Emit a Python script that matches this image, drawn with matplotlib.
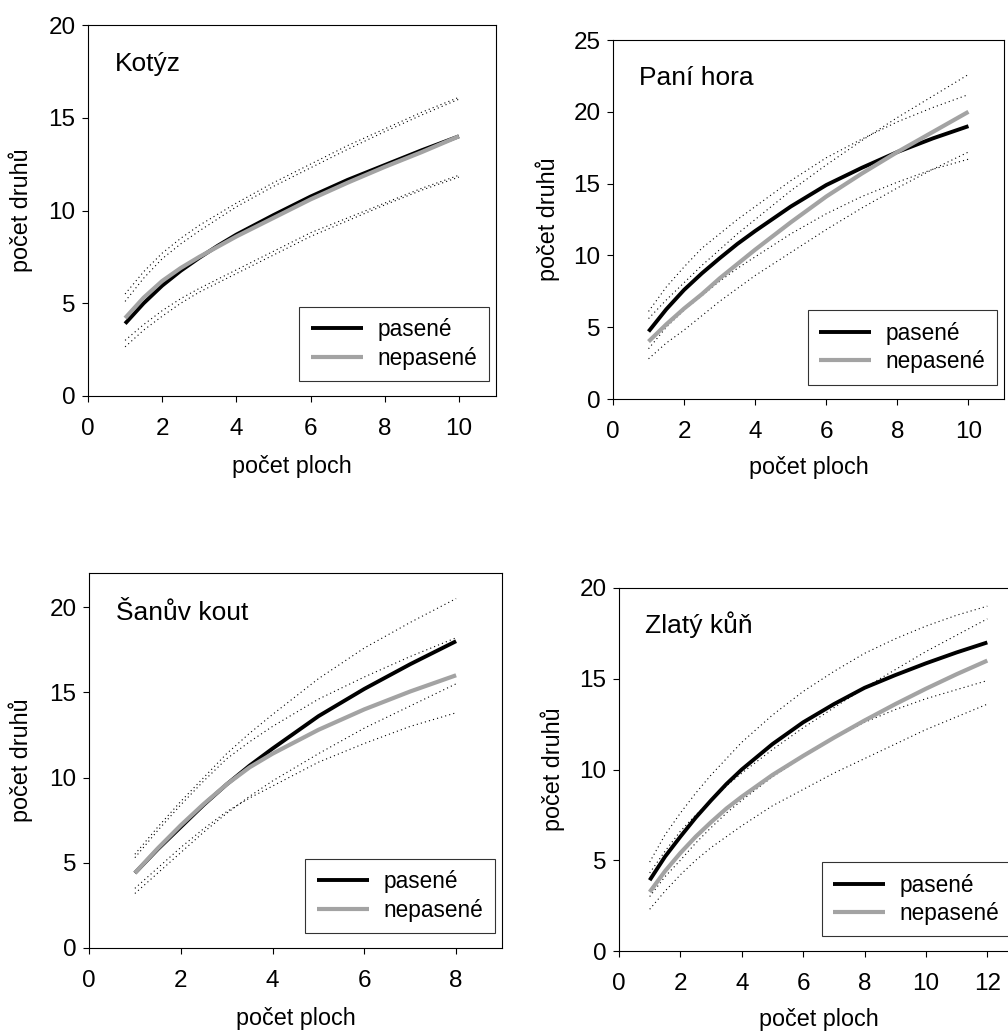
import numpy as np
import matplotlib.pyplot as plt

plt.rcParams['font.family'] = ['Liberation Sans', 'DejaVu Sans']

# --- data ---
# Kotýz
x_kot = [1, 1.5, 2, 2.5, 3, 3.5, 4, 5, 6, 7, 8, 9, 10]
kot_pas = [3.9, 5.0, 5.95, 6.75, 7.45, 8.1, 8.7, 9.75, 10.75, 11.65, 12.45, 13.25, 14.0]
kot_nep = [4.2, 5.3, 6.2, 6.9, 7.5, 8.05, 8.6, 9.6, 10.6, 11.5, 12.35, 13.15, 14.0]
kot_pas_hi = [5.5, 6.7, 7.7, 8.5, 9.2, 9.8, 10.4, 11.5, 12.5, 13.5, 14.4, 15.3, 16.1]
kot_pas_lo = [2.65, 3.55, 4.3, 5.0, 5.6, 6.1, 6.6, 7.6, 8.6, 9.45, 10.3, 11.1, 11.8]
kot_nep_hi = [5.1, 6.35, 7.4, 8.2, 8.9, 9.55, 10.2, 11.3, 12.3, 13.3, 14.25, 15.15, 16.0]
kot_nep_lo = [3.0, 3.85, 4.6, 5.25, 5.8, 6.3, 6.8, 7.8, 8.8, 9.6, 10.4, 11.2, 11.9]

# Paní hora
x_pan = [1, 1.5, 2, 2.5, 3, 3.5, 4, 5, 6, 7, 8, 9, 10]
pan_pas = [4.7, 6.25, 7.6, 8.75, 9.8, 10.8, 11.7, 13.4, 14.9, 16.1, 17.2, 18.15, 19.0]
pan_nep = [4.0, 5.2, 6.3, 7.3, 8.4, 9.4, 10.4, 12.3, 14.1, 15.7, 17.2, 18.6, 20.0]
pan_pas_hi = [6.1, 7.8, 9.2, 10.5, 11.5, 12.5, 13.4, 15.2, 16.8, 18.1, 19.3, 20.3, 21.2]
pan_pas_lo = [3.5, 5.0, 6.2, 7.2, 8.2, 9.1, 9.9, 11.5, 12.9, 14.1, 15.1, 16.0, 16.7]
pan_nep_hi = [5.6, 6.9, 8.1, 9.3, 10.4, 11.5, 12.5, 14.5, 16.3, 18.0, 19.6, 21.1, 22.6]
pan_nep_lo = [2.8, 3.9, 4.8, 5.8, 6.8, 7.7, 8.6, 10.2, 11.8, 13.3, 14.7, 16.0, 17.2]

# Šanův kout
x_san = [1, 1.5, 2, 2.5, 3, 3.5, 4, 5, 6, 7, 8]
san_pas = [4.4, 5.8, 7.1, 8.4, 9.6, 10.7, 11.7, 13.6, 15.2, 16.65, 18.0]
san_nep = [4.4, 5.85, 7.2, 8.45, 9.6, 10.6, 11.4, 12.8, 14.0, 15.05, 16.0]
san_pas_hi = [5.5, 7.1, 8.6, 10.0, 11.4, 12.6, 13.7, 15.8, 17.6, 19.1, 20.5]
san_pas_lo = [3.2, 4.4, 5.6, 6.8, 7.9, 8.9, 9.8, 11.4, 12.9, 14.2, 15.5]
san_nep_hi = [5.3, 6.9, 8.4, 9.8, 11.1, 12.1, 13.0, 14.6, 15.9, 17.1, 18.2]
san_nep_lo = [3.5, 4.7, 5.9, 7.0, 8.0, 8.8, 9.5, 10.9, 12.0, 13.0, 13.8]

# Zlatý kůň
x_zla = [1, 1.5, 2, 2.5, 3, 3.5, 4, 5, 6, 7, 8, 9, 10, 11, 12]
zla_pas = [3.9, 5.2, 6.3, 7.35, 8.3, 9.2, 10.0, 11.4, 12.6, 13.6, 14.5, 15.2, 15.85, 16.45, 17.0]
zla_nep = [3.25, 4.4, 5.4, 6.3, 7.1, 7.85, 8.5, 9.7, 10.75, 11.75, 12.7, 13.6, 14.45, 15.25, 16.0]
zla_pas_hi = [4.9, 6.4, 7.6, 8.7, 9.7, 10.6, 11.5, 13.0, 14.3, 15.4, 16.4, 17.2, 17.9, 18.5, 19.0]
zla_pas_lo = [3.0, 4.1, 5.0, 5.95, 6.8, 7.6, 8.3, 9.6, 10.7, 11.7, 12.6, 13.3, 13.9, 14.4, 14.9]
zla_nep_hi = [4.3, 5.5, 6.6, 7.5, 8.3, 9.1, 9.8, 11.1, 12.3, 13.4, 14.5, 15.5, 16.5, 17.4, 18.3]
zla_nep_lo = [2.3, 3.3, 4.2, 5.0, 5.7, 6.3, 6.9, 8.0, 8.9, 9.8, 10.6, 11.4, 12.2, 12.9, 13.6]

panels = [
    # name, x, series, xlim, xticks, ylim, yticks, axes rect (px: left, top, right, bottom)
    ('Kotýz', x_kot, (kot_pas, kot_nep, kot_pas_hi, kot_pas_lo, kot_nep_hi, kot_nep_lo),
     11, range(0, 11, 2), 20, range(0, 21, 5), (88, 25, 496, 396)),
    ('Paní hora', x_pan, (pan_pas, pan_nep, pan_pas_hi, pan_pas_lo, pan_nep_hi, pan_nep_lo),
     11, range(0, 11, 2), 25, range(0, 26, 5), (613, 40, 1004, 399)),
    ('Šanův kout', x_san, (san_pas, san_nep, san_pas_hi, san_pas_lo, san_nep_hi, san_nep_lo),
     9, range(0, 9, 2), 22, range(0, 21, 5), (89, 573, 502, 948)),
    ('Zlatý kůň', x_zla, (zla_pas, zla_nep, zla_pas_hi, zla_pas_lo, zla_nep_hi, zla_nep_lo),
     13, range(0, 13, 2), 20, range(0, 21, 5), (619, 588, 1018, 951)),
]

W, H = 1008, 1031
fig = plt.figure(figsize=(W / 100, H / 100), dpi=100)

dots = (0, (1, 2.8))
for name, x, (pas, nep, phi, plo, nhi, nlo), xmax, xt, ymax, yt, (l, t, r, b) in panels:
    ax = fig.add_axes([l / W, (H - b) / H, (r - l) / W, (b - t) / H])
    for s in (phi, plo, nhi, nlo):
        ax.plot(x, s, color='black', lw=0.8, ls=dots)
    ax.plot(x, pas, color='black', lw=2.8, label='pasené', solid_capstyle='butt')
    ax.plot(x, nep, color='#a3a3a3', lw=3.0, label='nepasené', solid_capstyle='butt')
    ax.set_xlim(0, xmax)
    ax.set_ylim(0, ymax)
    ax.set_xticks(list(xt))
    ax.set_yticks(list(yt))
    ax.tick_params(direction='out', length=4, width=0.8, labelsize=17.5)
    ax.tick_params(axis='x', pad=11.5)
    ax.tick_params(axis='y', pad=5)
    for sp in ax.spines.values():
        sp.set_linewidth(0.8)
    ax.set_xlabel('počet ploch', fontsize=16.8)
    ax.set_ylabel('počet druhů', fontsize=16.8)
    ax.xaxis.set_label_coords(0.5, -0.158)
    ax.yaxis.set_label_coords(-0.135, 0.5)
    ax.text(0.066, 0.876, name, transform=ax.transAxes, fontsize=19, va='baseline')
    leg = ax.legend(loc='lower right', bbox_to_anchor=(0.982, 0.04),
                    borderaxespad=0, fancybox=False, fontsize=16.3, handlelength=2.3,
                    handletextpad=0.65, labelspacing=0.25, borderpad=0.5)
    leg.get_frame().set_edgecolor('black')
    leg.get_frame().set_linewidth(0.8)

fig.savefig('out.png', dpi=100)
